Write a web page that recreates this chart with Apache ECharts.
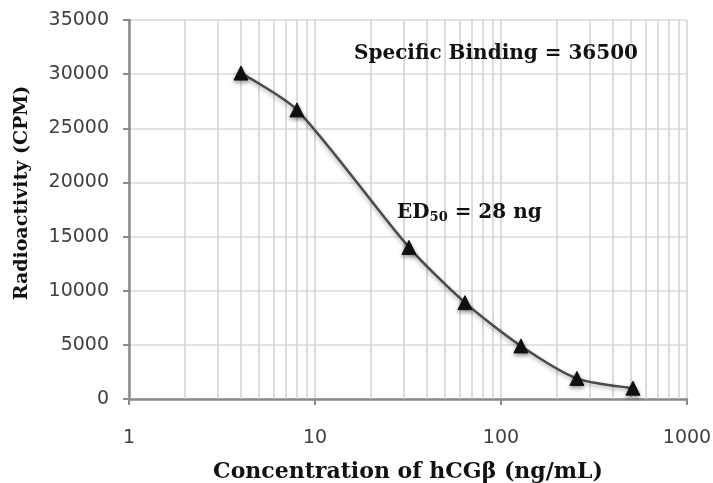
<!DOCTYPE html>
<html>
<head>
<meta charset="utf-8">
<script src="https://cdn.jsdelivr.net/npm/echarts@6/dist/echarts.min.js"></script>
<style>
html,body{margin:0;padding:0;background:#fff;}
#chart{width:713px;height:483px;}
</style>
</head>
<body>
<div id="chart"></div>
<script>
// hCGβ concentration (ng/mL) vs radioactivity (CPM)
var concentration = [4, 8, 32, 64, 128, 256, 512]
var cpm = [30100, 26700, 14000, 8900, 4900, 1900, 1000]
// minor log grid lines between decades
var minorTicks = [2, 3, 4, 5, 6, 7, 8, 9, 20, 30, 40, 50, 60, 70, 80, 90, 200, 300, 400, 500, 600, 700, 800, 900]

var points = concentration.map(function (c, i) { return [c, cpm[i]] })

var chart = echarts.init(document.getElementById('chart'))
var serif = '"DejaVu Serif", serif'
var sans = '"DejaVu Sans", sans-serif'

chart.setOption({
    animation: false,
    grid: { left: 129, right: 26, top: 20, bottom: 84, outerBoundsMode: 'none', containLabel: false },
    xAxis: {
        type: 'log',
        logBase: 10,
        min: 1,
        max: 1000,
        name: 'Concentration of hCGβ (ng/mL)',
        nameLocation: 'middle',
        nameGap: 62,
        nameTextStyle: { fontFamily: serif, fontWeight: 'bold', fontSize: 22, color: '#111' },
        axisLine: { lineStyle: { color: '#8a8a8a', width: 2.5 } },
        axisTick: { show: true, inside: false, length: 6, lineStyle: { color: '#8a8a8a', width: 2 } },
        axisLabel: { fontFamily: sans, fontSize: 19, color: '#404040', margin: 30, formatter: function (v) { return String(v) } },
        splitLine: { show: true, lineStyle: { color: '#d0d0d0', width: 1.5 } }
    },
    yAxis: {
        type: 'value',
        min: 0,
        max: 35000,
        interval: 5000,
        name: 'Radioactivity (CPM)',
        nameLocation: 'middle',
        nameGap: 97,
        nameTextStyle: { fontFamily: serif, fontWeight: 'bold', fontSize: 19, color: '#111', padding: [0, 0, 0, 33] },
        axisLine: { show: true, lineStyle: { color: '#8a8a8a', width: 2.5 } },
        axisTick: { show: true, length: 6, lineStyle: { color: '#8a8a8a', width: 2 } },
        axisLabel: { fontFamily: sans, fontSize: 19, color: '#404040', margin: 20, formatter: function (v) { return String(v) } },
        splitLine: { show: true, lineStyle: { color: '#dadada', width: 1.5 } }
    },
    graphic: [
        {
            type: 'text',
            left: 354,
            top: 44,
            z: 100,
            style: {
                text: 'Specific Binding = 36500',
                font: 'bold 20px ' + serif,
                fill: '#111'
            }
        },
        {
            type: 'text',
            left: 397,
            top: 203,
            z: 100,
            style: {
                text: '{m|ED}{s|50}{m| = 28 ng}',
                fill: '#111',
                rich: {
                    m: { font: 'bold 20px ' + serif, fill: '#111' },
                    s: { font: 'bold 13px ' + serif, fill: '#111', padding: [10, 0, 0, 0] }
                }
            }
        }
    ],
    series: [{
        type: 'line',
        data: points,
        smooth: 0.25,
        symbol: 'triangle',
        symbolSize: 14,
        lineStyle: { color: '#4a4a4a', width: 2.5, shadowColor: 'rgba(0,0,0,0.35)', shadowBlur: 4, shadowOffsetY: 2 },
        itemStyle: { color: '#111', borderColor: '#111', shadowColor: 'rgba(0,0,0,0.4)', shadowBlur: 4, shadowOffsetY: 2 },
        markLine: {
            silent: true,
            symbol: 'none',
            label: { show: false },
            lineStyle: { color: '#d0d0d0', width: 1.5, type: 'solid' },
            data: minorTicks.map(function (v) { return { xAxis: v } }),
            z: 1
        }
    }]
})
</script>
</body>
</html>
